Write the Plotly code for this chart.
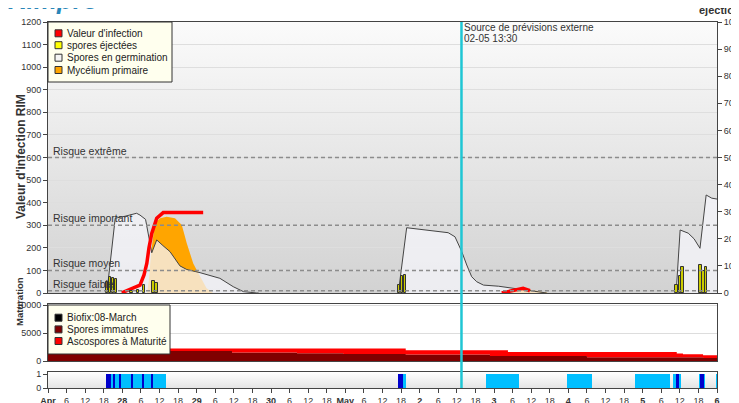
import base64
import pandas as pd
import plotly.graph_objects as go

# time axis: hours counted from the first day shown
START = pd.Timestamp("2024-04-27 00:00")
END = pd.Timestamp("2024-05-06 00:00")
forecast_hour = 133.5
forecast_label = "02-05 13:30"

# Spores en germination (three blobs, None = gap)
germ_hours = [19.0, 21.7, 24.9, 28.6, 29.7, 31.5, 33.5, 35.1, 37.1, 39.4, 42.6, 44.8, 49.1, 55.5, 59.8, 63.1, 67.4, 68.0,
              None,
              113.1, 115.8, 120.1, 126.6, 129.2, 131.4, 133.6, 135.2, 136.8, 138.4, 140.6, 145.5, 150.2, 156.7, 161.0,
              None,
              202.8, 204.1, 206.7, 208.6, 210.5, 212.5, 214.3, 216.0]
germ_vals = [0, 331, 340, 353, 345, 326, 178, 235, 210, 183, 120, 104, 90, 65, 28, 6, 0, 0,
             None,
             0, 289, 282, 272, 267, 249, 183, 124, 72, 50, 35, 30, 21, 6, 0,
             None,
             0, 279, 265, 240, 198, 434, 420, 416]

# Mycélium primaire
myc_hours = [32.0, 32.6, 33.3, 33.9, 34.5, 36.2, 38.3, 41.0, 43.2, 44.8, 46.9, 48.0, 51.2, 52.3, 53.3,
             None,
             149.2, 152.4, 155.6, 158.9, 161.4]
myc_vals = [0, 60, 180, 260, 309, 331, 338, 331, 301, 220, 131, 102, 21, 10, 0,
            None,
            0, 18, 14, 5, 0]

# Valeur d'infection
inf_hours = [23.8, 26.5, 29.7, 31.0, 31.9, 32.6, 33.5, 35.1, 37.2, 50.1,
             None,
             146.5, 150.2, 153.4, 155.6]
inf_vals = [1, 16, 35, 80, 131, 200, 264, 331, 356, 356,
            None,
            0, 13, 21, 10]

# spores éjectées (right axis)
spore_hours = [19.0, 20.0, 21.0, 22.0, 27.0, 29.0, 31.0, 34.0, 35.0,
               113.3, 114.3, 115.3, 203.0, 204.0, 204.9, 210.7, 211.6, 212.5]
spore_vals = [40, 58, 56, 50, 6, 10, 30, 45, 38,
              30, 62, 66, 30, 62, 95, 105, 80, 97]

# Maturation
mat_hours = [0, 59.4, 80.4, 95.3, 115.5, 142.7, 148.5, 174.0, 203.0, 205.0, 211.5, 216.0]
immatures = [1800, 1500, 1380, 1260, 1150, 900, 900, 660, 660, 660, 540, 540]
matures = [430, 730, 850, 970, 770, 1020, 720, 960, 670, 540, 480, 480]

# wetness (light blue) and rain (dark blue) periods, start/end hours
wet_periods = [(18.7, 38.0), (113.1, 115.6), (141.3, 152.2), (167.5, 175.7), (189.5, 200.8),
               (201.9, 204.4), (210.2, 212.1), (215.7, 216.0)]
rain_periods = [(18.7, 20.3), (21.1, 21.4), (23.0, 23.5), (26.8, 27.5), (30.4, 30.8), (33.5, 34.0),
                (113.1, 114.7), (202.7, 203.8), (210.5, 211.8)]

risk_levels = [10, 100, 300, 600]
risk_labels = ["Risque faible", "Risque moyen", "Risque important", "Risque extrême"]

legend_main = [("Valeur d'infection", "#ff0000"), ("spores éjectées", "#ffff00"),
               ("Spores en germination", "#f4f4f4"), ("Mycélium primaire", "#ffa500")]
legend_mat = [("Biofix:08-March", "#000000"), ("Spores immatures", "#800000"),
              ("Ascospores à Maturité", "#ff0000")]

FONT = "Liberation Sans, Arial, sans-serif"
TXT = "#333333"
# the page body adds an 8px margin, so the figure is 8px smaller and the margins shifted
W, H = 731, 395
ML, MR, MT, MB = 40, 22, 14, 15
PLOT_W = W - ML - MR
PLOT_H = H - MT - MB


def t(hours):
    return [None if h is None else START + pd.Timedelta(hours=h) for h in hours]


def px_x(px):
    # page pixel -> paper fraction
    return (px - 8 - ML) / PLOT_W


def px_y(py):
    return (H - MB - (py - 8)) / PLOT_H


def gradient(top, bottom):
    svg = ('<svg xmlns="http://www.w3.org/2000/svg" width="10" height="100" viewBox="0 0 10 100" '
           'preserveAspectRatio="none"><defs><linearGradient id="g" x1="0" y1="0" x2="0" y2="1">'
           f'<stop offset="0" stop-color="{top}"/><stop offset="1" stop-color="{bottom}"/>'
           '</linearGradient></defs><rect width="10" height="100" fill="url(#g)"/></svg>')
    return "data:image/svg+xml;base64," + base64.b64encode(svg.encode()).decode()


fig = go.Figure()

fig.add_trace(go.Scatter(x=t(myc_hours), y=myc_vals, mode="lines", fill="tozeroy",
                         fillcolor="#ffa500", line=dict(width=0), showlegend=False,
                         xaxis="x", yaxis="y"))
fig.add_trace(go.Scatter(x=t(germ_hours), y=germ_vals, mode="lines", fill="tozeroy",
                         fillcolor="rgba(244,244,250,0.76)", line=dict(color="#444", width=1),
                         showlegend=False, xaxis="x", yaxis="y"))
fig.add_trace(go.Scatter(x=t(inf_hours), y=inf_vals, mode="lines",
                         line=dict(color="#ff0000", width=3.5), showlegend=False,
                         xaxis="x", yaxis="y"))
fig.add_trace(go.Bar(x=t(spore_hours), y=spore_vals, width=3.0e6,
                     marker=dict(color="#cccc00", line=dict(color="#333", width=1)),
                     showlegend=False, xaxis="x", yaxis="y2"))

fig.add_trace(go.Scatter(x=t(mat_hours), y=immatures, mode="lines", stackgroup="mat",
                         line=dict(width=0, shape="hv"), fillcolor="#800000",
                         showlegend=False, xaxis="x2", yaxis="y3"))
fig.add_trace(go.Scatter(x=t(mat_hours), y=matures, mode="lines", stackgroup="mat",
                         line=dict(width=0, shape="hv"), fillcolor="#ff0000",
                         showlegend=False, xaxis="x2", yaxis="y3"))

for periods, color in [(wet_periods, "#00bfff"), (rain_periods, "#0000cc")]:
    fig.add_trace(go.Bar(
        x=[START + pd.Timedelta(hours=(a + b) / 2) for a, b in periods],
        y=[1] * len(periods),
        width=[(b - a) * 3600000 for a, b in periods],
        marker=dict(color=color, line=dict(width=0)),
        showlegend=False, xaxis="x3", yaxis="y4"))

# x tick labels every 6 hours
tickvals, ticktext = [], []
cur = START
while cur <= END:
    tickvals.append(cur)
    if cur.hour == 0:
        if cur == START or cur.day == 1:
            ticktext.append(f"<b>{cur.strftime('%b')}</b>")
        else:
            ticktext.append(f"<b>{cur.day}</b>")
    else:
        ticktext.append(str(cur.hour))
    cur += pd.Timedelta(hours=6)

tickfont = dict(family=FONT, size=9, color=TXT)
axis_common = dict(showline=True, linecolor="#444", linewidth=1, mirror=True, zeroline=False,
                   tickfont=tickfont, ticks="outside", ticklen=4, tickcolor="#444",
                   automargin=False)
xrange = [START, END]

shapes = []
annotations = []

for lvl, lab in zip(risk_levels, risk_labels):
    shapes.append(dict(type="line", xref="x domain", x0=0, x1=1, yref="y", y0=lvl, y1=lvl,
                       line=dict(color="#8c8c8c", width=1.5, dash="4px,3px"), layer="above"))
    annotations.append(dict(text=lab, xref="paper", x=px_x(51), xanchor="left", yref="y", y=lvl,
                            yanchor="bottom", yshift=-1, showarrow=False,
                            font=dict(family=FONT, size=10.5, color=TXT)))

forecast_t = START + pd.Timedelta(hours=forecast_hour)
shapes.append(dict(type="line", xref="x", x0=forecast_t, x1=forecast_t, yref="paper", y0=0, y1=1,
                   line=dict(color="#1fc6d4", width=2.5), layer="above"))
annotations.append(dict(text="Source de prévisions externe", xref="x", x=forecast_t, xanchor="left",
                        xshift=1, yref="paper", y=px_y(27.5), yanchor="middle", showarrow=False,
                        font=dict(family=FONT, size=10, color=TXT)))
annotations.append(dict(text=forecast_label, xref="x", x=forecast_t, xanchor="left",
                        xshift=1, yref="paper", y=px_y(38.5), yanchor="middle", showarrow=False,
                        font=dict(family=FONT, size=10, color=TXT)))


def add_legend(items, x0, x1, y0, y1, rows):
    shapes.append(dict(type="rect", xref="paper", yref="paper", x0=px_x(x0), x1=px_x(x1),
                       y0=px_y(y1), y1=px_y(y0), fillcolor="#ffffee",
                       line=dict(color="#333", width=1), layer="above"))
    for (name, color), ry in zip(items, rows):
        shapes.append(dict(type="rect", xref="paper", yref="paper", x0=px_x(55), x1=px_x(62),
                           y0=px_y(ry + 3.5), y1=px_y(ry - 3.5), fillcolor=color,
                           line=dict(color="#333", width=1), layer="above"))
        annotations.append(dict(text=name, xref="paper", x=px_x(64.5), xanchor="left",
                                yref="paper", y=px_y(ry), yanchor="middle", showarrow=False,
                                font=dict(family=FONT, size=10, color="#222")))


add_legend(legend_main, 48, 172, 22, 82, [33.3, 45.2, 57.7, 70.0])
add_legend(legend_mat, 48, 170, 305, 354, [317.7, 329.4, 341.0])

annotations.append(dict(text="<b>Valeur d'infection RIM</b>", textangle=-90, xref="paper",
                        x=px_x(12), yref="paper", y=px_y(157), showarrow=False,
                        font=dict(family=FONT, size=12, color=TXT)))
annotations.append(dict(text="<b>Maturation</b>", textangle=-90, xref="paper",
                        x=px_x(12), yref="paper", y=px_y(328), showarrow=False,
                        font=dict(family=FONT, size=9.5, color=TXT)))
annotations.append(dict(text="<b>éjections</b>", xref="paper", x=px_x(697), xanchor="left",
                        yref="paper", y=px_y(10), yanchor="middle", showarrow=False,
                        font=dict(family=FONT, size=11, color=TXT)))
annotations.append(dict(text="<b><i>Rimpro</i></b>", xref="paper", x=px_x(6), xanchor="left",
                        yref="paper", y=px_y(0), yanchor="middle", showarrow=False,
                        font=dict(family=FONT, size=26, color="#2a86b8")))

images = [
    dict(source=gradient("#fbfbfb", "#d2d2d2"), xref="x domain", yref="y domain", x=0, y=1,
         sizex=1, sizey=1, xanchor="left", yanchor="top", sizing="stretch", layer="below"),
    dict(source=gradient("#ffffff", "#e4e4e4"), xref="x3 domain", yref="y4 domain", x=0, y=1,
         sizex=1, sizey=1, xanchor="left", yanchor="top", sizing="stretch", layer="below"),
]

fig.update_layout(
    width=W, height=H,
    margin=dict(l=ML, r=MR, t=MT, b=MB, autoexpand=False),
    paper_bgcolor="white", plot_bgcolor="white",
    barmode="overlay", bargap=0,
    showlegend=False,
    font=dict(family=FONT, color=TXT),
    xaxis=dict(anchor="y", domain=[0, 1], range=xrange, type="date", showticklabels=False,
               ticks="", showgrid=False, showline=True, linecolor="#444", mirror=True,
               zeroline=False, automargin=False),
    xaxis2=dict(anchor="y3", domain=[0, 1], matches="x", type="date", showticklabels=False,
                ticks="", showgrid=False, showline=True, linecolor="#444", mirror=True,
                zeroline=False, automargin=False),
    xaxis3=dict(anchor="y4", domain=[0, 1], matches="x", type="date", showgrid=False,
                tickmode="array", tickvals=tickvals, ticktext=ticktext, **axis_common),
    yaxis=dict(anchor="x", domain=[px_y(293), 1], range=[0, 1200], dtick=100, tick0=0,
               showgrid=True, gridcolor="#dedede", **axis_common),
    yaxis2=dict(anchor="x", overlaying="y", side="right", range=[0, 1000], dtick=100, tick0=0,
                showgrid=False, showline=True, linecolor="#444", zeroline=False,
                tickfont=tickfont, ticks="outside", ticklen=4, tickcolor="#444",
                automargin=False),
    yaxis3=dict(anchor="x2", domain=[px_y(361), px_y(304)], range=[0, 10200],
                tickmode="array", tickvals=[0, 5000, 10000], ticktext=["0", "5000", "10000"],
                showgrid=True, gridcolor="#dddddd", **axis_common),
    yaxis4=dict(anchor="x3", domain=[0, px_y(372)], range=[0, 1.15],
                tickmode="array", tickvals=[0, 1], showgrid=False, **axis_common),
    shapes=shapes,
    annotations=annotations,
    images=images,
)

fig.write_html("out.html")
